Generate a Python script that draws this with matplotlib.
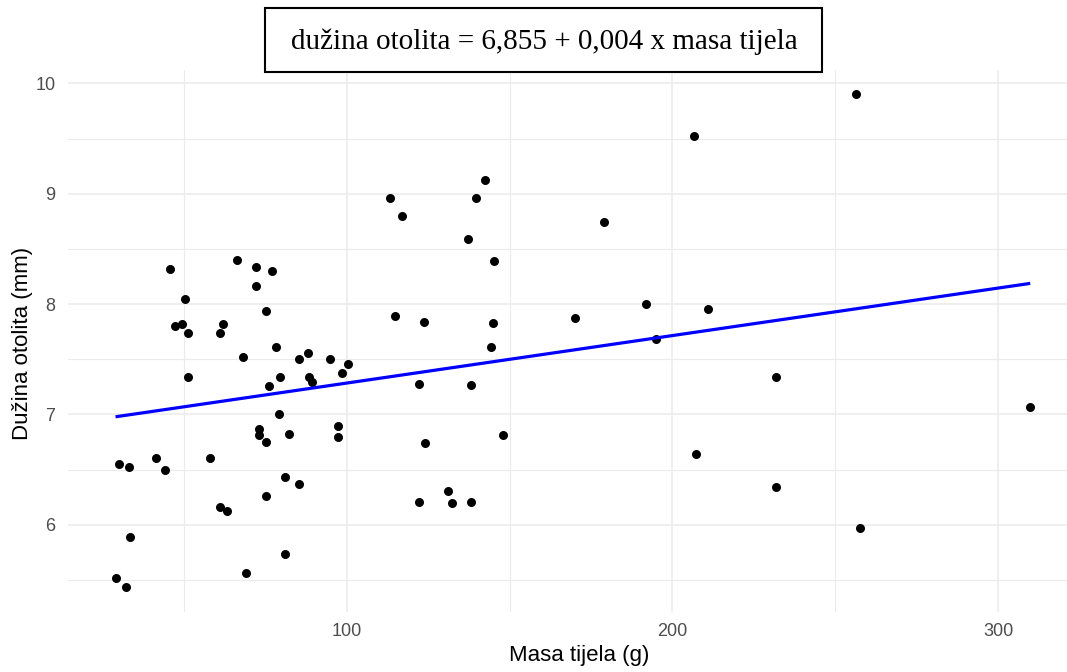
import matplotlib
matplotlib.use("Agg")
import matplotlib.pyplot as plt
from matplotlib.patches import Rectangle
from matplotlib.ticker import MultipleLocator
import numpy as np

# ---- data ----
masa = [45.6, 66.2, 72.0, 77.1, 72.0, 50.2, 47.1, 49.2, 51.1, 61.8,
        61.1, 75.1, 78.2, 68.0, 85.2, 87.9, 94.9, 113.1, 117.0, 114.7,
        100.3, 98.4, 51.1, 79.3, 76.1, 88.3, 89.2, 79.0, 73.1, 73.1,
        75.1, 82.1, 97.1, 97.1, 30.0, 33.1, 41.3, 44.1, 58.0, 81.0,
        85.2, 75.1, 61.1, 63.1, 33.4, 81.0, 68.9, 28.9, 32.1, 206.7,
        142.5, 139.5, 137.2, 179.0, 145.3, 123.7, 144.9, 170.1, 191.9, 144.2,
        195.0, 122.1, 138.0, 124.1, 148.0, 207.1, 130.9, 122.1, 132.3, 138.0,
        256.4, 211.0, 231.9, 309.9, 231.9, 257.5]
duzina = [8.32, 8.40, 8.34, 8.30, 8.16, 8.05, 7.80, 7.82, 7.74, 7.82,
          7.74, 7.94, 7.61, 7.52, 7.50, 7.56, 7.50, 8.96, 8.80, 7.89,
          7.46, 7.38, 7.34, 7.34, 7.26, 7.34, 7.29, 7.00, 6.87, 6.81,
          6.75, 6.82, 6.90, 6.80, 6.55, 6.52, 6.61, 6.50, 6.61, 6.43,
          6.37, 6.26, 6.16, 6.13, 5.89, 5.74, 5.56, 5.52, 5.44, 9.52,
          9.12, 8.96, 8.59, 8.74, 8.39, 7.84, 7.83, 7.87, 8.00, 7.61,
          7.68, 7.28, 7.27, 6.74, 6.81, 6.64, 6.31, 6.21, 6.20, 6.21,
          9.90, 7.96, 7.34, 7.07, 6.34, 5.97]
intercept = 6.855
slope = 0.0043
x_ticks = [100, 200, 300]
y_ticks = [6, 7, 8, 9, 10]
title_text = "dužina otolita = 6,855 + 0,004 x masa tijela"
x_label = "Masa tijela (g)"
y_label = "Dužina otolita (mm)"

W, H = 1067, 672
fig = plt.figure(figsize=(W / 100, H / 100), dpi=100)
fig.patch.set_facecolor("white")

left_px, right_px, top_px, bottom_px = 68, 1067, 70, 612
ax = fig.add_axes([left_px / W, 1 - bottom_px / H,
                   (right_px - left_px) / W, (bottom_px - top_px) / H])

ax.scatter(masa, duzina, s=42, color="black", linewidths=0, zorder=3)

xs = np.array([min(masa), max(masa)])
ax.plot(xs, intercept + slope * xs, color="#0000FF", lw=2.3,
        solid_capstyle="butt", zorder=4)

ax.set_xlim(14.3, 100 + (right_px - 347) / 3.255)
ax.set_ylim(10 - (bottom_px - 83.3) / 110.4, 10 - (top_px - 83.3) / 110.4)

ax.set_xticks(x_ticks)
ax.set_yticks(y_ticks)
ax.xaxis.set_minor_locator(MultipleLocator(50))
ax.yaxis.set_minor_locator(MultipleLocator(0.5))
ax.grid(which="major", color="#EBEBEB", lw=1.1)
ax.grid(which="minor", color="#EBEBEB", lw=0.8)
ax.set_axisbelow(True)
for s in ax.spines.values():
    s.set_visible(False)
ax.tick_params(which="both", length=0)
ax.tick_params(axis="x", pad=8, labelsize=13, labelcolor="#4D4D4D")
ax.tick_params(axis="y", pad=9, labelsize=13, labelcolor="#4D4D4D")
for lab in ax.get_xticklabels() + ax.get_yticklabels():
    lab.set_fontfamily("Liberation Sans")

fig.text(579 / W, 1 - 656 / H, x_label, ha="center", va="center",
         fontsize=16, family="Liberation Sans", color="black")
fig.text(23 / W, 1 - 343 / H, y_label, ha="center", va="center",
         rotation=90, fontsize=16, family="Liberation Sans", color="black")

# title box
fig.add_artist(Rectangle((265 / W, 1 - 72 / H), (822 - 265) / W, 64 / H,
                         transform=fig.transFigure, facecolor="white",
                         edgecolor="black", lw=1.5, zorder=5))
fig.text(544.5 / W, 1 - 42 / H, title_text, ha="center", va="center",
         fontsize=21, family="Liberation Serif", color="black", zorder=6)

fig.savefig("out.png", dpi=100)
